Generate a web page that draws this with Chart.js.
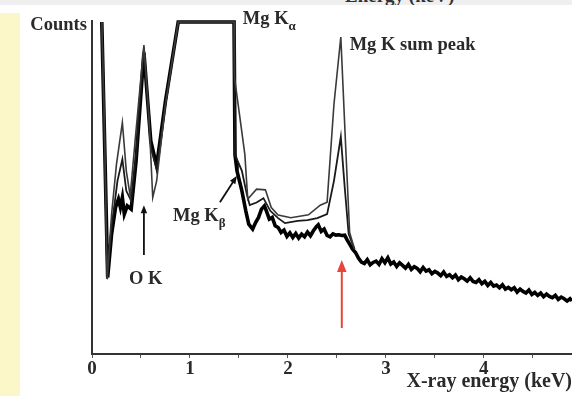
<!doctype html>
<html lang="en">
<head>
<meta charset="UTF-8">
<title>Mg K sum peak spectrum</title>
<script src="https://cdn.jsdelivr.net/npm/chart.js@4.4.1/dist/chart.umd.min.js"></script>
<style>
 body { margin: 0; background: #fff; }
 #wrap { position: relative; width: 572px; height: 396px; overflow: hidden; background: #fff; }
 #topband { position: absolute; left: 0; top: 0; width: 572px; height: 5px; background: #efefef; overflow: hidden; }
 #topband span { position: absolute; left: 345px; top: -15px; font: bold 19px "Liberation Serif", serif; color: #333; white-space: nowrap; }
 #side { position: absolute; left: 0; top: 13px; width: 20px; height: 383px; background: #fbf7c8; }
 canvas { position: absolute; left: 0; top: 0; }
</style>
</head>
<body>
<div id="wrap">
 <div id="topband"><span>Energy (keV)</span></div>
 <div id="side"></div>
 <canvas id="c" width="572" height="396"></canvas>
</div>
<script>
// energies in keV, counts in arbitrary units (0-100, 100 = top of the plot)
const thinKeV = [0.10, 0.125, 0.155, 0.20, 0.25, 0.31, 0.35, 0.39, 0.44, 0.53, 0.58, 0.62, 0.66, 0.75, 0.88,
  1.45, 1.455, 1.56, 1.59, 1.62, 1.68, 1.77, 1.83, 1.90, 2.03, 2.21, 2.33, 2.40, 2.47, 2.54, 2.59, 2.63, 2.68];
const thinCounts = [99.7, 72, 22.5, 42, 57, 69.5, 55, 47.5, 64, 92.8, 72, 47, 52, 75, 99.7,
  99.7, 83, 60, 46.5, 47.5, 49.5, 49.3, 44, 41.7, 40.9, 41.8, 44.7, 45.6, 75, 95.2, 62, 36.5, 31.5];

const midKeV = [0.10, 0.13, 0.155, 0.20, 0.26, 0.31, 0.35, 0.40, 0.45, 0.53, 0.60, 0.66, 0.75, 0.88,
  1.45, 1.46, 1.53, 1.58, 1.61, 1.68, 1.75, 1.82, 1.90, 1.97, 2.10, 2.20, 2.30, 2.40, 2.47, 2.54, 2.58, 2.62, 2.68];
const midCounts = [99.7, 61, 22.5, 38, 52, 58.5, 49, 46, 60, 92, 62, 55.5, 75, 99.7,
  99.7, 59.8, 55, 48, 44.7, 45.5, 46.8, 43, 40.8, 39.3, 40, 40.2, 40.8, 42, 52, 65.2, 50, 36, 31.5];

const thickKeV = [0.10, 0.13, 0.16, 0.20, 0.24, 0.27, 0.29, 0.31, 0.33, 0.36, 0.40, 0.45, 0.53, 0.60, 0.66, 0.75, 0.88,
  1.45, 1.46, 1.47, 1.48, 1.53, 1.57, 1.60, 1.64, 1.67, 1.70, 1.73, 1.76, 1.78, 1.81, 1.84, 1.87, 1.90,
  1.93, 1.96, 1.99, 2.02, 2.05, 2.08, 2.11, 2.14, 2.17, 2.20, 2.23, 2.26, 2.29, 2.31, 2.34, 2.37, 2.40,
  2.43, 2.46, 2.49, 2.52, 2.55, 2.58, 2.60, 2.63, 2.66, 2.69, 2.72, 2.75];
const thickCounts = [99.7, 62, 23, 36, 44, 46.5, 44, 47, 42, 44.5, 43.5, 58, 90.5, 64, 56.5, 76, 99.7,
  99.7, 59.8, 57.5, 55, 49, 43, 39, 37.5, 39.5, 41, 43.5, 44.5, 43, 40.5, 41, 38.5, 38,
  36.5, 37.2, 35.3, 36.4, 35, 36.2, 34.8, 36, 35.2, 36.6, 35.5, 37, 38.2, 38.8, 36.8, 37.5, 35.6,
  35.2, 36.1, 35.7, 35.8, 35.6, 35.7, 34.5, 33, 31.5, 30.5, 28.8, 27.6];

// background tail, shared by all spectra above ~2.7 keV
const tailKeV = [2.78, 2.81, 2.84, 2.87, 2.90, 2.93, 2.96, 2.99, 3.02, 3.05, 3.08, 3.11, 3.14, 3.17, 3.20,
  3.23, 3.26, 3.29, 3.32, 3.35, 3.38, 3.41, 3.44, 3.47, 3.50, 3.53, 3.56, 3.59, 3.62, 3.65, 3.68, 3.71,
  3.74, 3.77, 3.80, 3.83, 3.86, 3.89, 3.92, 3.95, 3.98, 4.01, 4.04, 4.07, 4.10, 4.13, 4.16, 4.19, 4.22,
  4.25, 4.28, 4.31, 4.34, 4.37, 4.40, 4.43, 4.46, 4.49, 4.52, 4.55, 4.58, 4.61, 4.64, 4.67, 4.70, 4.73,
  4.76, 4.79, 4.82, 4.85, 4.88, 4.90];
const tailCounts = [27.2, 28.3, 26.8, 27.5, 27.9, 26.9, 28.6, 27.4, 28.9, 27.0, 27.6, 26.3, 27.4, 26.6, 25.8,
  26.9, 25.4, 26.2, 25.7, 24.7, 26.0, 24.9, 25.3, 24.1, 24.8, 24.3, 23.5, 24.6, 23.3, 23.8, 22.9, 23.7,
  22.3, 23.1, 22.6, 21.9, 22.9, 21.8, 21.5, 22.3, 21.1, 21.8, 20.6, 21.5, 20.4, 20.7, 19.9, 20.8, 19.5,
  20.0, 19.3, 19.9, 18.6, 19.5, 18.8, 18.3, 19.2, 17.9, 18.5, 17.6, 18.3, 17.2, 18.0, 17.3, 16.9, 17.6,
  16.4, 17.1, 16.6, 15.9, 16.6, 16.0];

const xTicks = [0, 1, 2, 3, 4];

function pts(xs, ys) {
  return xs.map((x, i) => ({ x: x, y: ys[i] }));
}

const serif = '"Liberation Serif", "Times New Roman", serif';
const ink = '#2a2a2a';

// labels and arrows, placed in data coordinates
const notes = {
  id: 'notes',
  afterDraw(chart) {
    const ctx = chart.ctx, xs = chart.scales.x, ys = chart.scales.y;
    const px = (e, v) => [xs.getPixelForValue(e), ys.getPixelForValue(v)];

    function label(text, sub, e, v) {
      const [x, y] = px(e, v);
      ctx.save();
      ctx.fillStyle = ink;
      ctx.textBaseline = 'alphabetic';
      ctx.textAlign = 'left';
      ctx.font = 'bold 18.5px ' + serif;
      ctx.fillText(text, x, y);
      if (sub) {
        const w = ctx.measureText(text).width;
        ctx.font = 'bold 13px ' + serif;
        ctx.fillText(sub, x + w, y + 6);
      }
      ctx.restore();
    }

    function arrow(e0, v0, e1, v1, color, width, head) {
      const [x0, y0] = px(e0, v0), [x1, y1] = px(e1, v1);
      const a = Math.atan2(y1 - y0, x1 - x0);
      ctx.save();
      ctx.strokeStyle = color;
      ctx.fillStyle = color;
      ctx.lineWidth = width;
      ctx.beginPath();
      ctx.moveTo(x0, y0);
      ctx.lineTo(x1 - Math.cos(a) * head * 0.8, y1 - Math.sin(a) * head * 0.8);
      ctx.stroke();
      ctx.beginPath();
      ctx.moveTo(x1, y1);
      ctx.lineTo(x1 - Math.cos(a) * head + Math.sin(a) * head * 0.4, y1 - Math.sin(a) * head - Math.cos(a) * head * 0.4);
      ctx.lineTo(x1 - Math.cos(a) * head - Math.sin(a) * head * 0.4, y1 - Math.sin(a) * head + Math.cos(a) * head * 0.4);
      ctx.closePath();
      ctx.fill();
      ctx.restore();
    }

    label('Counts', '', -0.63, 97.3);
    label('Mg K', 'α', 1.54, 99.1);
    label('Mg K sum peak', '', 2.63, 91.3);
    label('Mg K', 'β', 0.827, 39.9);
    label('O K', '', 0.378, 21);

    arrow(0.53, 29.7, 0.53, 44.7, '#111', 1.8, 8);
    arrow(1.306, 45.6, 1.48, 53.5, '#111', 1.8, 8);
    arrow(2.55, 7.8, 2.55, 28.2, '#e8453c', 2, 12);
  }
};

new Chart(document.getElementById('c'), {
  type: 'line',
  data: {
    datasets: [
      { data: pts(thinKeV, thinCounts), borderColor: '#3a3a3a', borderWidth: 1.6, clip: false },
      { data: pts(midKeV, midCounts), borderColor: '#1a1a1a', borderWidth: 1.8, clip: false },
      { data: pts(thickKeV.concat(tailKeV), thickCounts.concat(tailCounts)), borderColor: '#000', borderWidth: 3.6, clip: false }
    ]
  },
  options: {
    responsive: false,
    animation: false,
    devicePixelRatio: 1,
    layout: { padding: { top: 21, left: 0, right: 0, bottom: 0 } },
    elements: { point: { radius: 0 }, line: { tension: 0 } },
    plugins: { legend: { display: false }, tooltip: { enabled: false } },
    scales: {
      x: {
        type: 'linear', min: 0, max: 4.9,
        afterFit(s) { s.height = 42; },
        border: { color: '#333', width: 2 },
        grid: { drawOnChartArea: false, drawTicks: true, tickLength: 4, color: '#555' },
        ticks: {
          stepSize: 0.5, includeBounds: false, autoSkip: false, maxRotation: 0, padding: 0,
          color: ink, font: { family: serif, size: 19, weight: 'bold' },
          callback: v => xTicks.includes(v) ? String(v) : ''
        },
        title: {
          display: true, text: 'X-ray energy (keV)', align: 'end', color: ink,
          font: { family: serif, size: 20, weight: 'bold' }, padding: { top: 0, bottom: 2 }
        }
      },
      y: {
        min: 0, max: 100,
        afterFit(s) { s.width = 92; },
        border: { color: '#333', width: 2 },
        grid: { drawOnChartArea: false, drawTicks: false },
        ticks: { display: false }
      }
    }
  },
  plugins: [notes]
});
</script>
</body>
</html>
